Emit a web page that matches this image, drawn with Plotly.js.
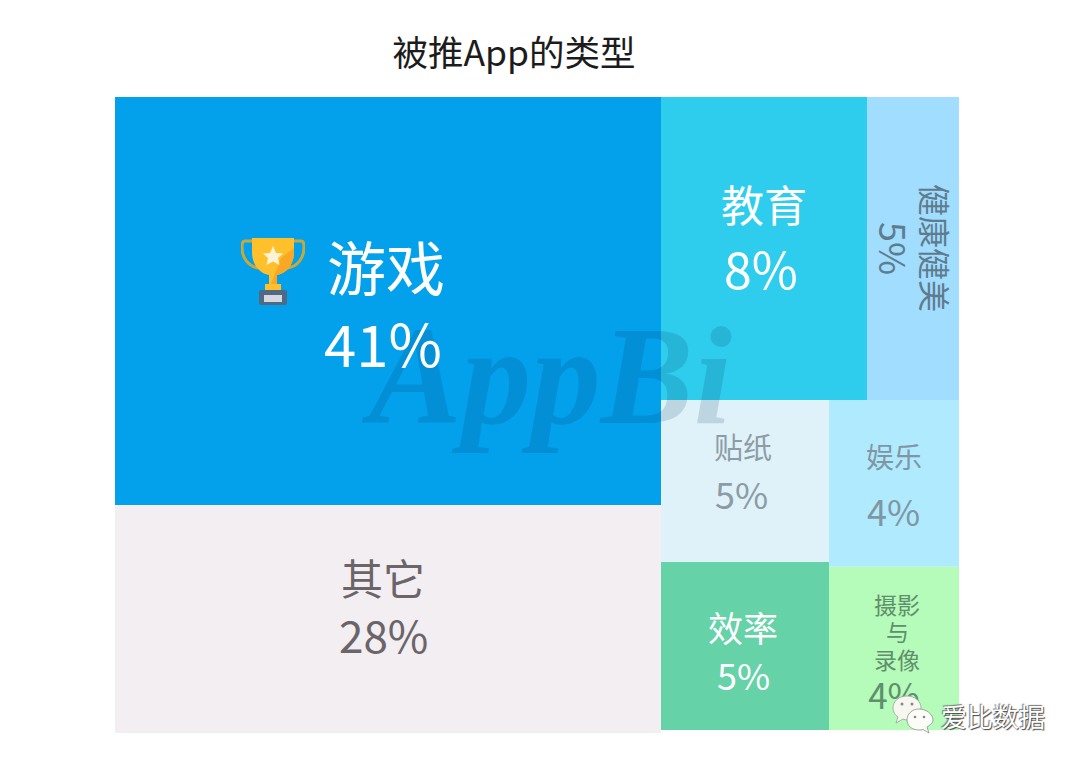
<!DOCTYPE html>
<html>
<head>
<meta charset="utf-8">
<script src="https://cdn.plot.ly/plotly-3.0.1.min.js"></script>
<style>
  html, body { margin: 0; padding: 0; background: #fff; }
  #chart { width: 1080px; height: 763px; }
</style>
</head>
<body>
<div id="chart"></div>
<script>
const W = 1080;
const H = 763;
const CJK = '"Noto Sans CJK SC", "Noto Sans", sans-serif';

// tile tree, slice-dice packing alternates direction per level
// 'gap' is the thin empty strip under the right column in the picture
const tileIds = ['root', 'left', 'right', 'game', 'other', 'top', 'bottom', 'gap', 'edu', 'health', 'lower1', 'lower2', 'sticker', 'efficiency', 'fun', 'photo'];
const tileParents = ['', 'root', 'root', 'left', 'left', 'right', 'right', 'right', 'top', 'top', 'bottom', 'bottom', 'lower1', 'lower1', 'lower2', 'lower2'];
// tile sizes as drawn in the picture (share of area, not quite the printed percentages)
const tileSizes = [0, 0, 0, 41.5, 23.19, 0, 0, 0.167, 11.63, 5.19, 0, 0, 5.07, 5.26, 4.04, 3.95];
const tileColors = ['rgba(0,0,0,0)', 'rgba(0,0,0,0)', 'rgba(0,0,0,0)', '#03A0EC', '#F2EEF1', 'rgba(0,0,0,0)', 'rgba(0,0,0,0)', '#ffffff', '#2ECDEE', '#A0DDFF', 'rgba(0,0,0,0)', 'rgba(0,0,0,0)', '#DFF2F9', '#66D2A8', '#B0EAFE', '#B5FBB9'];
// only the photo share prints through the trace, the wechat logo sits on top of its 4%
const tileText = ['', '', '', '', '', '', '', '', '', '', '', '', '', '', '', ' <br> <br>4%'];

const names = ['游戏', '其它', '教育', '贴纸', '娱乐', '效率'];
const shares = ['41%', '28%', '8%', '5%', '4%', '5%'];
const nameX = [386, 383, 764, 743, 894, 743];
const nameY = [265, 576, 203, 446, 456, 626];
const nameSize = [59, 42, 43, 29, 28, 35];
const shareX = [383, 383, 761, 741, 893, 743];
const shareY = [342, 634, 267, 493, 510, 674];
const shareSize = [58, 44, 50, 36, 36, 36];
const textColors = ['#ffffff', '#6B6468', '#ffffff', '#8D9CA4', '#7F97A3', '#ffffff'];
const photoLines = ['摄影', '与', '录像'];
const photoLineY = [604, 631, 659];

function note(text, x, y, size, color, extra) {
    return Object.assign({
        text: text,
        xref: 'paper', yref: 'paper',
        x: x / W, y: 1 - y / H,
        xanchor: 'center', yanchor: 'middle',
        showarrow: false,
        font: { family: CJK, size: size, color: color }
    }, extra || {});
}

const annotations = [];
annotations.push(note('AppBi', 546, 376, 139, 'rgba(0,50,90,0.15)', {
    font: { family: '"Liberation Serif", serif', size: 139, color: 'rgba(0,50,90,0.15)', style: 'italic', weight: 'bold' }
}));
names.forEach((n, i) => {
    annotations.push(note(n, nameX[i], nameY[i], nameSize[i], textColors[i]));
    annotations.push(note(shares[i], shareX[i], shareY[i], shareSize[i], textColors[i]));
});
annotations.push(note('健康健美', 936, 248, 32, '#5F7C8E', { textangle: 90 }));
annotations.push(note('5%', 895, 248, 36, '#5F7C8E', { textangle: 90 }));
photoLines.forEach((t, i) => {
    annotations.push(note(t, 897, photoLineY[i], 23, '#5F8F6C'));
});
annotations.push(note('爱比数据', 993, 715, 26, '#ffffff', {
    font: { family: CJK, size: 26, color: '#ffffff', shadow: '1px 1px 1px #444, -1px -1px 1px #777' }
}));

const trophySvg = `<svg xmlns="http://www.w3.org/2000/svg" viewBox="0 0 64 70">
<path d="M12 5H4C1 5 1 8 1 11C1 22 7 30 17 32" fill="none" stroke="#C9A83A" stroke-width="3"/>
<path d="M52 5H60C63 5 63 8 63 11C63 22 57 30 47 32" fill="none" stroke="#C9A83A" stroke-width="3"/>
<path d="M11 2H53V16C53 30 44 38 36 39V48H28V39C20 38 11 30 11 16Z" fill="#FFC02B"/>
<path d="M40 22L53 12V16C53 30 44 38 36 39V48H30Z" fill="#F9A825"/>
<path d="M24 48H40V54H24Z" fill="#FFC02B"/>
<rect x="18" y="54" width="28" height="15" rx="2" fill="#4F6A85"/>
<rect x="23" y="59" width="18" height="7" fill="#D5D8DE"/>
<path d="M32 10L35 17L42 17.500L37 22L38.500 29L32 25.500L25.500 29L27 22L22 17.500L29 17Z" fill="#FFF3D6"/>
</svg>`;

const wechatSvg = `<svg xmlns="http://www.w3.org/2000/svg" viewBox="0 0 42 40">
<path d="M15 1C7 1 1 6 1 13C1 17 3 20 6 22L4 28L11 24C12 24.500 14 25 15 25C23 25 29 19 29 13C29 6 23 1 15 1Z" fill="#F7F7F2" stroke="#9AA39A" stroke-width="0.800"/>
<path d="M27 14C20 14 15 19 15 25C15 31 20 35 27 35C28 35 30 35 31 34.500L37 38L35 32C38 30 41 28 41 25C41 19 34 14 27 14Z" fill="#FBFBF7" stroke="#8A938A" stroke-width="0.800"/>
<circle cx="10" cy="9" r="1.500" fill="#888"/><circle cx="20" cy="9" r="1.500" fill="#888"/>
<circle cx="23" cy="22" r="1.300" fill="#888"/><circle cx="32" cy="22" r="1.300" fill="#888"/>
</svg>`;

const svgUri = s => 'data:image/svg+xml;base64,' + btoa(s);

const trace = {
    type: 'treemap',
    ids: tileIds,
    labels: tileIds.map(() => ''),
    parents: tileParents,
    values: tileSizes,
    text: tileText,
    textinfo: 'text',
    textposition: 'middle center',
    textfont: { family: CJK, size: 35, color: '#5F8F6C' },
    sort: false,
    hoverinfo: 'skip',
    marker: {
        colors: tileColors,
        line: { width: 0 },
        pad: { t: 0, l: 0, r: 0, b: 0 }
    },
    tiling: { packing: 'slice-dice', pad: 0 },
    pathbar: { visible: false },
    domain: { x: [115 / W, 959 / W], y: [1 - 733 / H, 1 - 97 / H] }
};

const layout = {
    width: W,
    height: H,
    margin: { l: 0, r: 0, t: 0, b: 0 },
    paper_bgcolor: '#ffffff',
    showlegend: false,
    title: {
        text: '被推App的类型',
        x: 514 / W, xanchor: 'center',
        y: 1 - 54 / H, yanchor: 'middle',
        font: { family: CJK, size: 35.5, color: '#1c1c1c' }
    },
    annotations: annotations,
    images: [
        { source: svgUri(trophySvg), xref: 'paper', yref: 'paper', x: 241 / W, y: 1 - 236 / H, sizex: 64 / W, sizey: 70 / H, xanchor: 'left', yanchor: 'top', sizing: 'stretch', layer: 'above' },
        { source: svgUri(wechatSvg), xref: 'paper', yref: 'paper', x: 892 / W, y: 1 - 695 / H, sizex: 42 / W, sizey: 40 / H, xanchor: 'left', yanchor: 'top', sizing: 'stretch', layer: 'above' }
    ]
};

Plotly.newPlot('chart', [trace], layout, { displayModeBar: false });
</script>
</body>
</html>
